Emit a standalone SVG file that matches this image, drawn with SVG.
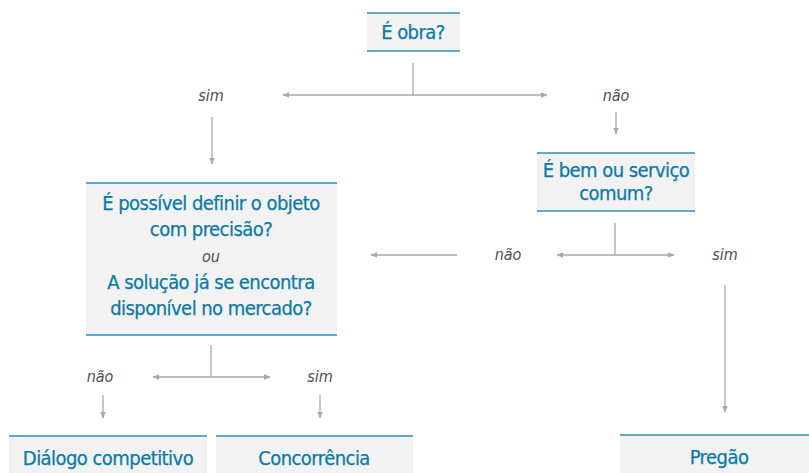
<svg xmlns="http://www.w3.org/2000/svg" width="809" height="473" viewBox="0 0 809 473">
<defs>
<marker id="ah" viewBox="0 0 10 10" refX="9" refY="5" markerWidth="7" markerHeight="7" markerUnits="userSpaceOnUse" orient="auto">
<path d="M0,1 L10,5 L0,9 z" fill="#a9a9a9"/>
</marker>
<style>
.box{fill:#f2f2f2;}
.edge{stroke:#5ea9cc;stroke-width:2;fill:none;}
.t{font-family:"DejaVu Sans Condensed","Liberation Sans Narrow",sans-serif;font-size:20px;letter-spacing:-0.55px;fill:#0b7aa6;text-anchor:middle;stroke:#0b7aa6;stroke-width:0.25;}
.lbl{font-family:"DejaVu Sans Condensed","Liberation Sans Narrow",sans-serif;font-size:16px;font-style:italic;fill:#505050;text-anchor:middle;}
.c{stroke:#a9a9a9;stroke-width:1.3;fill:none;}
.a{stroke:#a9a9a9;stroke-width:1.3;fill:none;marker-end:url(#ah);}
</style>
</defs>
<rect width="809" height="473" fill="#fff"/>
<g id="connectors">
<line class="c" x1="413" y1="63" x2="413" y2="95"/>
<line class="a" x1="413" y1="95" x2="283" y2="95"/>
<line class="a" x1="413" y1="95" x2="547" y2="95"/>
<line class="a" x1="212" y1="117" x2="212" y2="164"/>
<line class="a" x1="616" y1="112" x2="616" y2="134"/>
<line class="c" x1="615" y1="223" x2="615" y2="255"/>
<line class="a" x1="615" y1="255" x2="557" y2="255"/>
<line class="a" x1="615" y1="255" x2="674" y2="255"/>
<line class="a" x1="457" y1="255" x2="371" y2="255"/>
<line class="a" x1="725" y1="285" x2="725" y2="412"/>
<line class="c" x1="211" y1="345" x2="211" y2="377"/>
<line class="a" x1="211" y1="377" x2="153" y2="377"/>
<line class="a" x1="211" y1="377" x2="270" y2="377"/>
<line class="a" x1="103" y1="395" x2="103" y2="418"/>
<line class="a" x1="320" y1="395" x2="320" y2="418"/>
<text class="lbl" x="211" y="101">sim</text>
<text class="lbl" x="616" y="101">não</text>
<text class="lbl" x="508" y="260">não</text>
<text class="lbl" x="725" y="260">sim</text>
<text class="lbl" x="100" y="382">não</text>
<text class="lbl" x="320" y="382">sim</text>
</g>
<g id="obra">
<rect class="box" x="367" y="13" width="93" height="38"/>
<line class="edge" x1="367" y1="13" x2="460" y2="13"/>
<line class="edge" x1="367" y1="51" x2="460" y2="51"/>
<text class="t" x="413" y="39">É obra?</text>
</g>
<g id="bem">
<rect class="box" x="537" y="153" width="158" height="58"/>
<line class="edge" x1="537" y1="153" x2="695" y2="153"/>
<line class="edge" x1="537" y1="211" x2="695" y2="211"/>
<text class="t" x="616" y="177">É bem ou serviço</text>
<text class="t" x="616" y="200">comum?</text>
</g>
<g id="definir">
<rect class="box" x="86" y="183" width="251" height="152"/>
<line class="edge" x1="86" y1="183" x2="337" y2="183"/>
<line class="edge" x1="86" y1="335" x2="337" y2="335"/>
<text class="t" x="211" y="210">É possível definir o objeto</text>
<text class="t" x="211" y="236">com precisão?</text>
<text class="lbl" x="211" y="262">ou</text>
<text class="t" x="211" y="289">A solução já se encontra</text>
<text class="t" x="211" y="315">disponível no mercado?</text>
</g>
<g id="dialogo">
<rect class="box" x="9" y="436" width="198" height="37"/>
<line class="edge" x1="9" y1="436" x2="207" y2="436"/>
<text class="t" x="108" y="465">Diálogo competitivo</text>
</g>
<g id="concorrencia">
<rect class="box" x="216" y="436" width="197" height="37"/>
<line class="edge" x1="216" y1="436" x2="413" y2="436"/>
<text class="t" x="314" y="465">Concorrência</text>
</g>
<g id="pregao">
<rect class="box" x="620" y="435" width="189" height="38"/>
<line class="edge" x1="620" y1="435" x2="809" y2="435"/>
<text class="t" x="719" y="464">Pregão</text>
</g>
</svg>
